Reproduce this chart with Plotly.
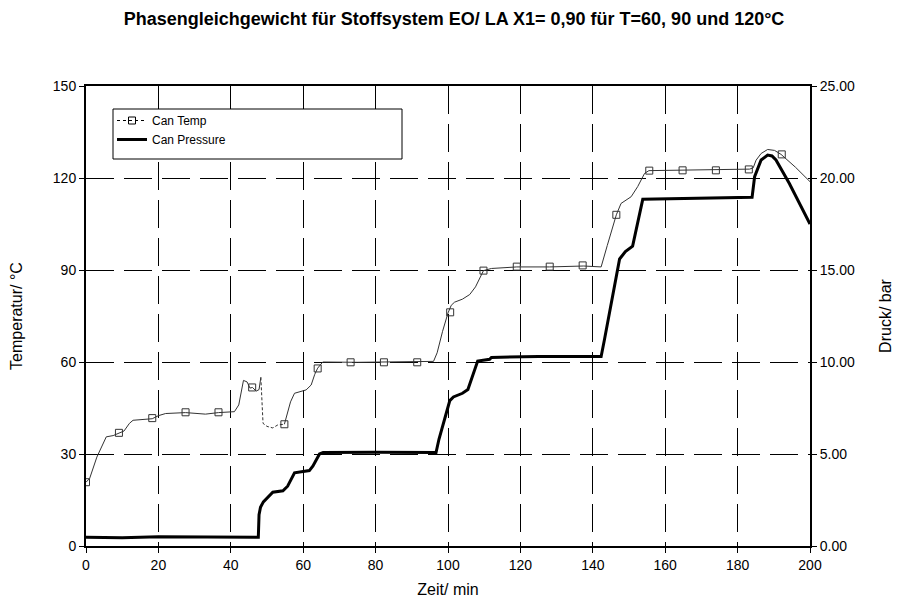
import plotly.graph_objects as go

# ---- data ----
temp_time = [0, 1, 3, 5.6, 7.5, 9, 10.5, 12, 13, 18.3, 20, 22, 27.5, 33, 36.6, 41, 42.2, 43.5, 44.5,
             45.3, 46, 47, 47.8, 48.3]
temp_val = [20.8, 22, 29, 35.6, 36, 36.8, 37.5, 40, 41, 41.5, 42.5, 43.2, 43.5, 43, 43.5, 43.8, 46, 54, 53.5,
            51.5, 51.7, 50.5, 51, 55]

temp_dash_time = [48.3, 48.6, 48.9, 50, 51.6, 53, 54.8]
temp_dash_val = [55, 44, 40, 39, 38.5, 39.5, 39.7]

temp2_time = [54.8, 55.6, 56.5, 57.6, 60.8, 62.2, 63.2, 64, 65.4, 75, 85, 96.0, 97, 98.5, 100, 100.9,
              101.8, 104, 106, 107.6, 109.8, 112, 119, 128, 137.5, 142.3, 144, 146.5, 147.8, 150.6,
              152.4, 154.3, 155.5, 165, 174, 183.3, 184.3, 185.1, 186.5, 188.3, 190.2, 192, 196, 200]
temp2_val = [39.7, 43, 47, 49.8, 50.9, 52.5, 56, 58, 60, 59.9, 60.1, 60.2, 63, 70, 76, 78.5,
             79.5, 80.5, 82, 84.5, 89.8, 90.5, 91, 91, 91.3, 91, 98, 108, 111.7, 113.9,
             117.2, 121.5, 122.4, 122.6, 122.6, 122.9, 123.3, 125.8, 128, 129.3, 129, 127.7, 123.5, 118.8]

marker_time = [0, 9.1, 18.3, 27.5, 36.6, 45.9, 54.8, 64, 73.1, 82.3, 91.5, 100.6, 109.8, 119,
               128.1, 137.2, 146.5, 155.6, 164.8, 174, 183.1, 192.2]
marker_temp = [20.8, 36.9, 41.7, 43.6, 43.6, 51.7, 39.7, 57.9, 59.9, 59.9, 59.9, 76.2, 89.8, 91.1,
               91.1, 91.5, 108, 122.4, 122.5, 122.5, 122.8, 127.7]

press_time = [0, 10, 20, 30, 40, 47.6, 47.8, 48.2, 49, 50, 51.6, 54.4, 55.7, 57.6, 61.7, 62.7, 64.5,
              65.5, 80, 96.7, 97.5, 99.5, 100.5, 101.5, 104, 105.5, 108.2, 111.5, 112, 125, 142.3,
              143.2, 147.4, 149, 151, 153.8, 170, 184, 184.7, 186.5, 188.3, 189.5, 190.6, 194.3, 200]
press_val = [0.47, 0.45, 0.5, 0.48, 0.47, 0.47, 1.7, 2.1, 2.4, 2.6, 2.92, 3.0, 3.25, 3.98, 4.1, 4.35, 5.0,
             5.08, 5.1, 5.08, 5.8, 7.2, 7.9, 8.1, 8.3, 8.5, 10.05, 10.15, 10.25, 10.3, 10.3,
             11.2, 15.6, 16.0, 16.3, 18.84, 18.9, 18.95, 20.07, 20.98, 21.25, 21.2, 20.98, 19.7, 17.5]

x_ticks = [0, 20, 40, 60, 80, 100, 120, 140, 160, 180, 200]
t_ticks = [0, 30, 60, 90, 120, 150]
p_ticks = [0, 5, 10, 15, 20, 25]

FONT = "Liberation Sans, Arial, sans-serif"
TEMP_COLOR = "#333333"

# figure geometry (page body has an 8px margin)
W, H = 892, 590
ML, MR, MT, MB = 78, 90, 78, 52
PW, PH = W - ML - MR, H - MT - MB


def px_x(x):
    return (x - ML) / PW


def px_y(y):
    return 1 - (y - MT) / PH


fig = go.Figure()

fig.add_trace(go.Scatter(x=temp_time, y=temp_val, mode="lines",
                         line=dict(color=TEMP_COLOR, width=1), showlegend=False))
fig.add_trace(go.Scatter(x=temp_dash_time, y=temp_dash_val, mode="lines",
                         line=dict(color=TEMP_COLOR, width=1, dash="3px,2px"), showlegend=False))
fig.add_trace(go.Scatter(x=temp2_time, y=temp2_val, mode="lines",
                         line=dict(color=TEMP_COLOR, width=1), showlegend=False))
fig.add_trace(go.Scatter(x=marker_time, y=marker_temp, mode="markers",
                         marker=dict(symbol="square-open", size=7, color=TEMP_COLOR,
                                     line=dict(width=1, color=TEMP_COLOR)),
                         showlegend=False))
# legend entries
fig.add_trace(go.Scatter(x=[None], y=[None], mode="lines+markers", name="Can Temp",
                         line=dict(color="black", width=1, dash="3px,3px"),
                         marker=dict(symbol="square-open", size=7, color="black")))
fig.add_trace(go.Scatter(x=press_time, y=press_val, mode="lines", name="Can Pressure",
                         line=dict(color="black", width=3), yaxis="y2"))

grid_dash = "28px,10px"
fig.update_layout(
    width=W, height=H,
    paper_bgcolor="white", plot_bgcolor="white",
    margin=dict(l=ML, r=MR, t=MT, b=MB, autoexpand=False),
    font=dict(family=FONT, size=13, color="black"),
    title=dict(text="<b>Phasengleichgewicht für Stoffsystem EO/ LA X1= 0,90 für T=60, 90 und 120°C</b>",
               x=0.5, xanchor="center", y=1 - 11 / H, yanchor="middle",
               font=dict(family=FONT, size=18, color="black")),
    xaxis=dict(range=[0, 200], tickvals=x_ticks, ticks="outside", ticklen=5, tickwidth=1,
               tickcolor="black", showline=True, linecolor="black", linewidth=2, mirror=True,
               showgrid=True, gridcolor="black", gridwidth=1, griddash=grid_dash,
               zeroline=False, title=dict(text="Zeit/ min", standoff=12),
               tickfont=dict(size=14)),
    yaxis=dict(range=[0, 150], tickvals=t_ticks, ticks="outside", ticklen=5, tickwidth=1,
               tickcolor="black", showline=True, linecolor="black", linewidth=2, mirror=True,
               showgrid=True, gridcolor="black", gridwidth=1, griddash=grid_dash,
               zeroline=False, title=dict(text="Temperatur/ °C", standoff=26),
               tickfont=dict(size=14)),
    yaxis2=dict(range=[0, 25], tickvals=p_ticks, tickformat=".2f", overlaying="y", side="right",
                ticks="outside", ticklen=5, tickwidth=1, tickcolor="black",
                showline=True, linecolor="black", linewidth=2, showgrid=False, zeroline=False,
                title=dict(text="Druck/ bar", standoff=26), tickfont=dict(size=14)),
    legend=dict(x=px_x(104), y=px_y(98), xanchor="left", yanchor="top",
                bgcolor="rgba(0,0,0,0)", borderwidth=0, font=dict(size=12), tracegroupgap=0),
    shapes=[dict(type="rect", xref="paper", yref="paper", layer="above",
                 x0=px_x(105), x1=px_x(394), y0=px_y(151), y1=px_y(101),
                 fillcolor="white", line=dict(color="black", width=1))],
)

fig.write_html("out.html")
